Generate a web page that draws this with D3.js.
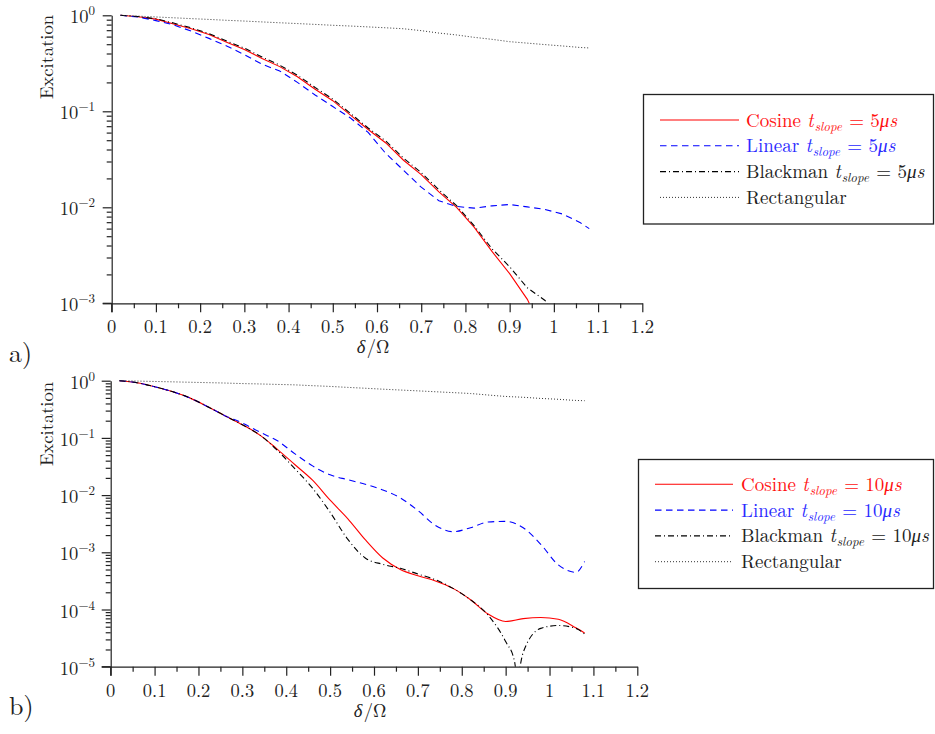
<!DOCTYPE html>
<html><head><meta charset="utf-8">
<script src="https://cdn.jsdelivr.net/npm/d3@7"></script>
<style>
body{margin:0;background:#fff}
svg{display:block}
</style>
</head><body>
<svg id="chart" width="935" height="734"></svg>
<script>
// ---------- data ----------
const xGrid = [0.02,0.06,0.10,0.14,0.18,0.22,0.26,0.30,0.34,0.38,0.42,0.46,0.50,0.54,0.58,0.62,0.66,0.70,0.74,0.78,0.82,0.86,0.90,0.94,0.98,1.02,1.06,1.08];

// panel a) t_slope = 5 µs
const cosineA = [1,0.966,0.912,0.813,0.724,0.631,0.525,0.44,0.355,0.292,0.229,0.17,0.129,0.0912,0.0646,0.0468,0.0309,0.0219,0.0145,0.01,0.00617,0.00347,0.00204,0.0011,0.00045,null,null,null];
const linearA = [1,0.96,0.88,0.794,0.684,0.575,0.479,0.389,0.309,0.263,0.2,0.148,0.112,0.0851,0.0603,0.0363,0.0243,0.0162,0.0117,0.0102,0.0098,0.01035,0.0107,0.0101,0.0095,0.0085,0.0069,0.006];
const blackmanA = [1,0.97,0.92,0.83,0.74,0.645,0.54,0.455,0.368,0.302,0.238,0.177,0.134,0.095,0.067,0.049,0.0325,0.023,0.0152,0.0104,0.0064,0.0037,0.0024,0.00145,0.00107,0.0006,null,null];
const rectA = [1,0.98,0.961,0.942,0.923,0.906,0.887,0.871,0.853,0.836,0.82,0.804,0.787,0.773,0.757,0.741,0.724,0.692,0.653,0.624,0.589,0.562,0.531,0.513,0.495,0.479,0.462,0.457];

// panel b) t_slope = 10 µs
const cosineB = [1,0.923,0.785,0.646,0.501,0.355,0.245,0.17,0.112,0.0631,0.0339,0.0182,0.00813,0.00389,0.00166,0.000794,0.000501,0.000389,0.000316,0.000234,0.000148,0.0000832,0.0000617,0.0000692,0.0000724,0.0000676,0.0000479,0.0000389];
const linearB = [1,0.923,0.785,0.646,0.501,0.355,0.245,0.182,0.126,0.0891,0.0525,0.0324,0.0226,0.0186,0.0155,0.0123,0.00891,0.00537,0.00295,0.00229,0.00269,0.00339,0.00347,0.00269,0.00138,0.000603,0.000447,0.000692];
const xBlackmanB = [0.02,0.06,0.10,0.14,0.18,0.22,0.26,0.30,0.34,0.38,0.42,0.46,0.50,0.54,0.58,0.62,0.66,0.70,0.74,0.78,0.82,0.86,0.90,0.92,0.926,0.94,0.98,1.02,1.06,1.08];
const blackmanB = [1,0.923,0.785,0.646,0.501,0.355,0.245,0.17,0.112,0.0603,0.0288,0.0132,0.00501,0.0017,0.000794,0.000617,0.000525,0.000417,0.000331,0.000234,0.000148,0.0000794,0.0000275,0.0000126,0.000007,0.0000178,0.0000468,0.0000525,0.0000468,0.0000372];
const rectB = [1,0.985,0.97,0.955,0.94,0.925,0.91,0.891,0.877,0.861,0.845,0.818,0.794,0.764,0.738,0.711,0.687,0.664,0.641,0.619,0.596,0.562,0.531,0.513,0.49,0.473,0.452,0.447];

// ticks / labels
const xTicks = [0,0.1,0.2,0.3,0.4,0.5,0.6,0.7,0.8,0.9,1,1.1,1.2];
const xTickLabels = ["0","0.1","0.2","0.3","0.4","0.5","0.6","0.7","0.8","0.9","1","1.1","1.2"];
const xMinorTicks = [0.05,0.15,0.25,0.35,0.45,0.55,0.65,0.75,0.85,0.95,1.05,1.15];
const expA = [0,-1,-2,-3];
const expB = [0,-1,-2,-3,-4,-5];
const legendNames = ["Cosine","Linear","Blackman","Rectangular"];
const slopeA = "5", slopeB = "10";
const yLabel = "Excitation";
const panelTags = ["a)","b)"];

// ---------- drawing ----------
const FONT = '"Latin Modern Roman", "Liberation Serif", serif';
const svg = d3.select("#chart");
const styles = [
  {color:"#ff0000", dash:null, text:"#ff1010"},
  {color:"#0000ff", dash:"6.5,4.5", text:"#2a2aff"},
  {color:"#000000", dash:"6,3,1,3", text:"#222"},
  {color:"#333333", dash:"1,2", text:"#222"}
];

function txt(sel, size){
  return sel.append("text").style("font-family",FONT).style("font-size",size+"px").attr("fill","#222");
}

function drawPanel(cfg){
  const g = svg.append("g");
  const x = d3.scaleLinear().domain([0,1.2]).range([cfg.left,cfg.right]);
  const y = d3.scaleLog().domain([cfg.yMin,1]).range([cfg.bottom,cfg.top]);

  const clipId = "clip"+cfg.tag;
  svg.append("defs").append("clipPath").attr("id",clipId)
    .append("rect").attr("x",cfg.left).attr("y",cfg.top-4)
    .attr("width",cfg.right-cfg.left).attr("height",cfg.bottom-cfg.top+4);

  const lines = g.append("g").attr("clip-path",`url(#${clipId})`);
  cfg.series.forEach((s,i)=>{
    const pts = s.xs.map((xv,k)=>[xv,s.ys[k]]);
    const line = d3.line()
      .defined(d=>d[1]!=null)
      .x(d=>x(d[0])).y(d=>y(d[1]))
      .curve(cfg.curve);
    const st = styles[i];
    lines.append("path").datum(pts).attr("d",line)
      .attr("fill","none").attr("stroke",st.color)
      .attr("stroke-width", i===3?1:1.1)
      .attr("stroke-dasharray",st.dash);
  });

  // x axis
  const xAx = g.append("g").attr("transform",`translate(0,${cfg.bottom})`);
  xAx.call(d3.axisBottom(x).tickValues(xTicks).tickSize(9).tickSizeOuter(0).tickFormat(""));
  xAx.append("g").call(d3.axisBottom(x).tickValues(xMinorTicks).tickSize(5).tickSizeOuter(0).tickFormat(""))
    .select(".domain").remove();
  xAx.selectAll("line,path").attr("stroke","#222").attr("stroke-width",1.2);
  xTicks.forEach((t,i)=>{
    txt(g,18.5).attr("x",x(t)).attr("y",cfg.bottom+30)
      .attr("text-anchor","middle").text(xTickLabels[i]);
  });
  g.append("line").attr("x1",cfg.left-9).attr("x2",cfg.left)
    .attr("y1",cfg.bottom).attr("y2",cfg.bottom).attr("stroke","#222").attr("stroke-width",1.2);

  // y axis
  const majors = cfg.exps.map(e=>Math.pow(10,e));
  const minors = [];
  cfg.exps.slice(1).forEach(e=>{ for(let m=2;m<10;m++) minors.push(m*Math.pow(10,e)); });
  const yAx = g.append("g").attr("transform",`translate(${cfg.left},0)`);
  yAx.call(d3.axisLeft(y).tickValues(majors).tickSize(9).tickSizeOuter(0).tickFormat(""));
  yAx.append("g").call(d3.axisLeft(y).tickValues(minors).tickSize(5).tickSizeOuter(0).tickFormat(""))
    .select(".domain").remove();
  yAx.selectAll("line,path").attr("stroke","#222").attr("stroke-width",1.2);
  g.append("line").attr("x1",cfg.left).attr("x2",cfg.left)
    .attr("y1",cfg.bottom).attr("y2",cfg.bottom+9).attr("stroke","#222").attr("stroke-width",1.2);

  cfg.exps.forEach(e=>{
    const t = txt(g,18.5).attr("x",95).attr("y",y(Math.pow(10,e))+8)
      .attr("text-anchor","end");
    t.append("tspan").text("10");
    t.append("tspan").attr("dy",-8).style("font-size","13px").text(e===0?"0":"−"+(-e));
  });

  // axis titles
  txt(g,18.5).attr("transform",`translate(53,${cfg.ylabelY}) rotate(-90)`)
    .attr("text-anchor","middle").text(yLabel);
  const xl = txt(g,18.5).attr("x",cfg.xlabelX).attr("y",cfg.bottom+50).attr("text-anchor","middle");
  xl.append("tspan").style("font-style","italic").text("δ");
  xl.append("tspan").attr("dx",1.5).text("/Ω");
  txt(g,26).attr("x",9).attr("y",cfg.tagY).text(cfg.tagText);

  // legend
  const L = cfg.legend;
  g.append("rect").attr("x",L.x).attr("y",L.y).attr("width",L.w).attr("height",L.h)
    .attr("fill","#fff").attr("stroke","#222").attr("stroke-width",1.3);
  legendNames.forEach((name,i)=>{
    const ly = L.row0 + i*L.dy;
    const st = styles[i];
    g.append("line").attr("x1",L.lx0).attr("x2",L.lx1).attr("y1",ly).attr("y2",ly)
      .attr("stroke",st.color).attr("stroke-width",i===3?1:1.1).attr("stroke-dasharray",st.dash);
    const t = txt(g,19).attr("x",L.tx).attr("y",ly+6.5).attr("fill",st.text);
    if(i===3){ t.text(name); return; }
    t.append("tspan").text(name+" ");
    t.append("tspan").style("font-style","italic").text("t");
    t.append("tspan").style("font-style","italic").style("font-size","13px").attr("dx",1).attr("dy",4).text("slope");
    t.append("tspan").attr("dx",1).attr("dy",-4).text(" = "+cfg.slope);
    t.append("tspan").style("font-style","italic").text("μs");
  });
}

drawPanel({
  tag:"a", tagText:panelTags[0], tagY:362,
  left:111.7, right:642.3, top:15.3, bottom:303.3, yMin:1e-3, exps:expA,
  ylabelY:57, xlabelX:373, slope:slopeA, curve:d3.curveLinear,
  series:[{xs:xGrid,ys:cosineA},{xs:xGrid,ys:linearA},{xs:xGrid,ys:blackmanA},{xs:xGrid,ys:rectA}],
  legend:{x:643.5,y:94.5,w:290,h:129.5,row0:120,dy:25.8,lx0:660,lx1:739,tx:746}
});
drawPanel({
  tag:"b", tagText:panelTags[1], tagY:715,
  left:110.7, right:637.3, top:380.7, bottom:666.7, yMin:1e-5, exps:expB,
  ylabelY:424, xlabelX:370, slope:slopeB, curve:d3.curveMonotoneX,
  series:[{xs:xGrid,ys:cosineB},{xs:xGrid,ys:linearB},{xs:xBlackmanB,ys:blackmanB},{xs:xGrid,ys:rectB}],
  legend:{x:638.5,y:459.5,w:295,h:129,row0:484.3,dy:25.8,lx0:655,lx1:733,tx:741}
});
</script>
</body></html>
